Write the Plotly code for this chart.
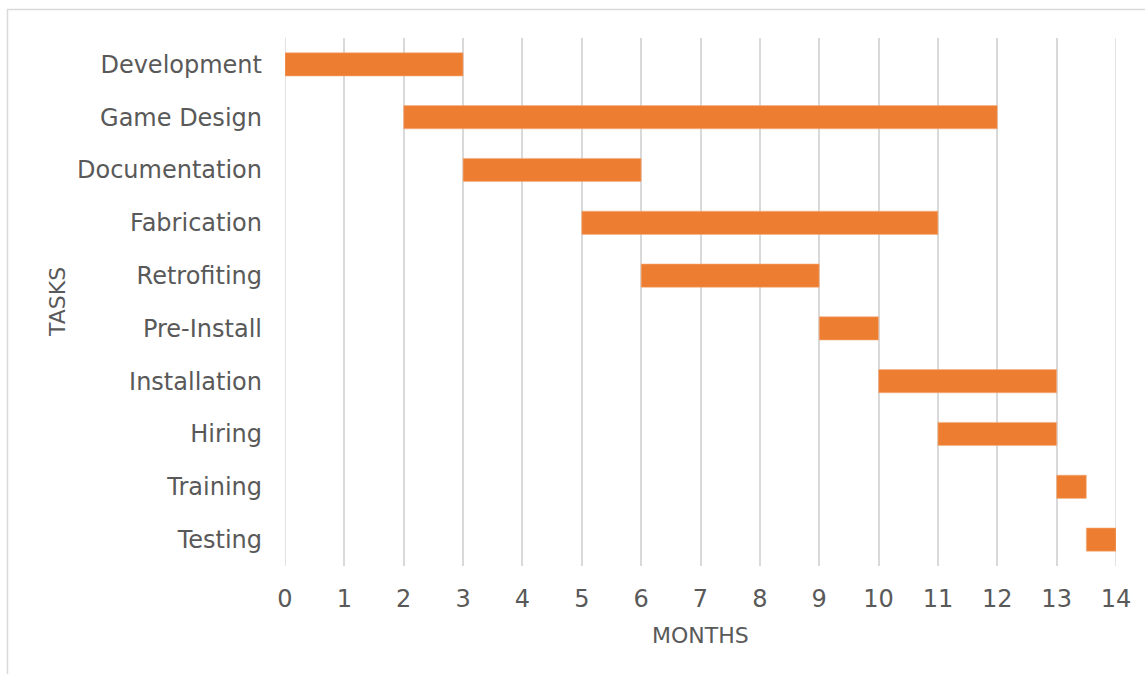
import plotly.graph_objects as go

tasks = ["Development", "Game Design", "Documentation", "Fabrication", "Retrofiting",
         "Pre-Install", "Installation", "Hiring", "Training", "Testing"]
start = [0, 2, 3, 5, 6, 9, 10, 11, 13, 13.5]
duration = [3, 10, 3, 6, 3, 1, 3, 2, 0.5, 0.5]
x_ticks = list(range(0, 15))

W, H = 1145, 674
L, R, T, B = 285, 29, 38, 108
pw, ph = W - L - R, H - T - B

FONT = "DejaVu Sans"
GREY = "#595959"
GRID = "#d9d9d9"

fig = go.Figure(go.Bar(
    y=tasks, x=duration, base=start, orientation="h",
    marker=dict(color="#ED7D31", line=dict(color="#F4B183", width=0.6)),
    hoverinfo="skip",
))

fig.update_layout(
    width=W, height=H,
    margin=dict(l=L, r=R, t=T, b=B, autoexpand=False),
    paper_bgcolor="white", plot_bgcolor="white",
    bargap=0.56, showlegend=False,
    font=dict(family=FONT, color=GREY, size=24),
    xaxis=dict(range=[0, 14], tickvals=x_ticks, showgrid=True, gridcolor=GRID,
               gridwidth=1.5, zeroline=False, showline=False, ticks="",
               ticklabelstandoff=16, tickfont=dict(size=24, color=GREY)),
    yaxis=dict(categoryorder="array", categoryarray=tasks, autorange="reversed",
               showgrid=False, zeroline=False, showline=False, ticks="",
               ticklabelstandoff=22, tickfont=dict(size=24, color=GREY)),
    shapes=[dict(type="rect", xref="paper", yref="paper",
                 x0=(7.5 - L) / pw, x1=(W + 20 - L) / pw,
                 y0=-(B + 20) / ph, y1=1 + (T - 9.5) / ph,
                 line=dict(color=GRID, width=1.5), fillcolor="rgba(0,0,0,0)",
                 layer="below"),
            dict(type="line", xref="x", yref="paper", x0=14, x1=14, y0=0, y1=1,
                 line=dict(color=GRID, width=1.5), layer="below"),
            dict(type="line", xref="x", yref="paper", x0=0, x1=0, y0=0, y1=1,
                 line=dict(color=GRID, width=1.5), layer="below")],
    annotations=[
        dict(text="TASKS", xref="paper", yref="paper", x=(57 - L) / pw, y=0.5,
             textangle=-90, showarrow=False, xanchor="center", yanchor="middle",
             font=dict(size=22, color=GREY)),
        dict(text="MONTHS", xref="paper", yref="paper", x=0.5, y=-(635 - T - ph) / ph,
             showarrow=False, xanchor="center", yanchor="middle",
             font=dict(size=22, color=GREY)),
    ],
)

fig.write_html("out.html")
